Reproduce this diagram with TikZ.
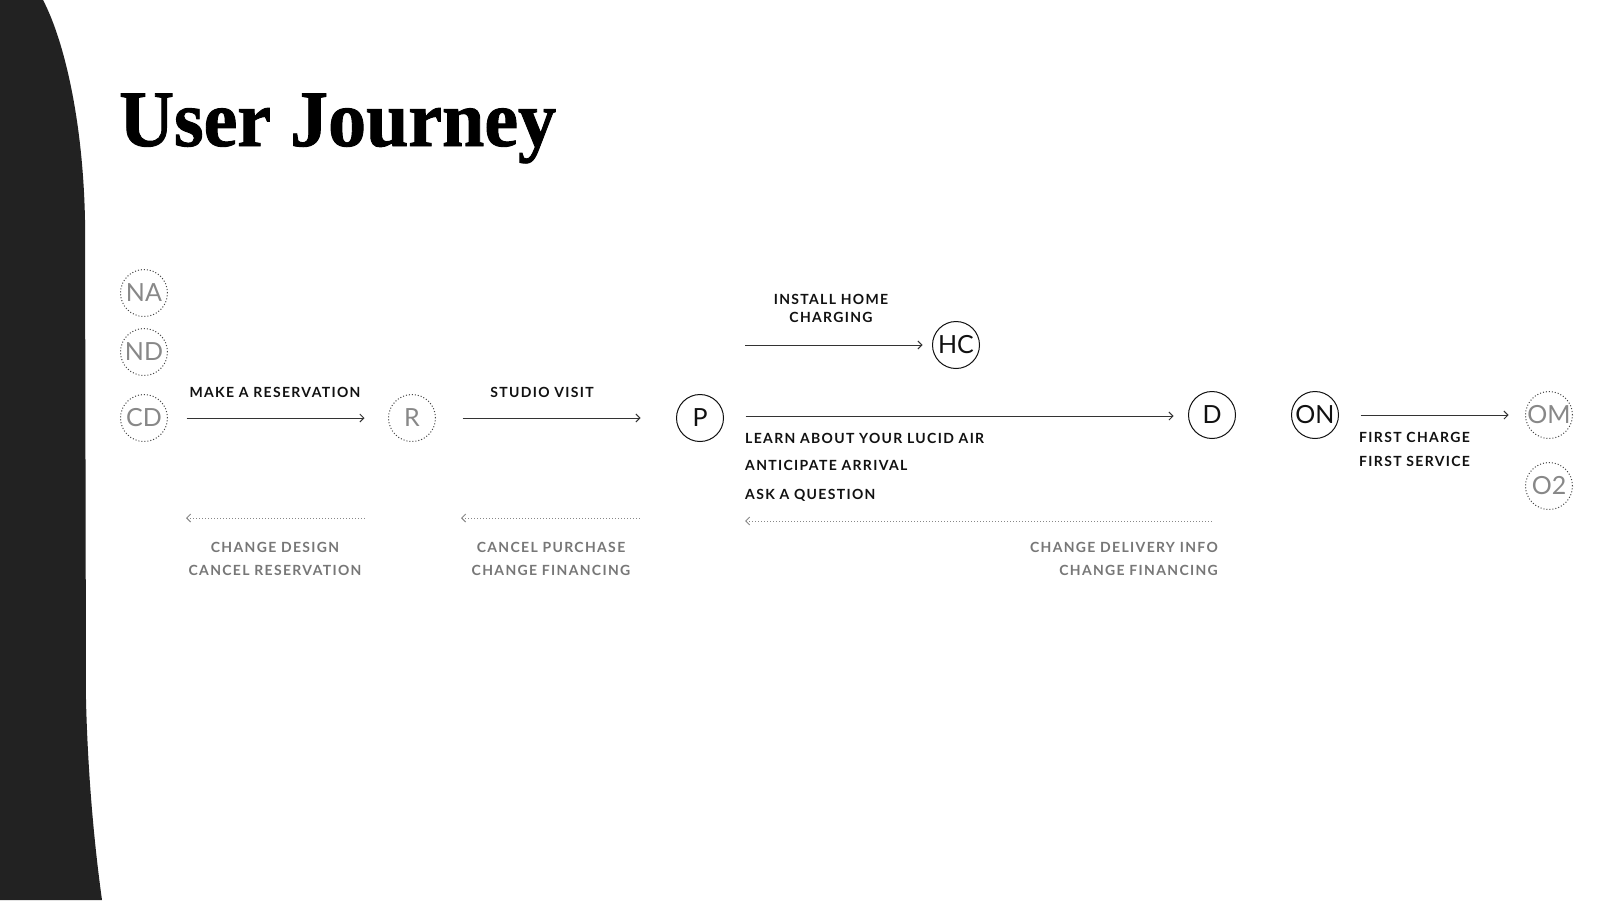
\documentclass[tikz,border=0pt]{standalone}
\usepackage{fontspec}
\setmainfont{Lato}
\newfontfamily\titlefont[BoldFeatures={FakeBold=1.2}]{Liberation Serif}
\newfontfamily\labfont[LetterSpace=9.5]{Lato}
\usetikzlibrary{arrows.meta}
\definecolor{darkbg}{HTML}{222222}
\definecolor{inkc}{HTML}{111111}
\definecolor{greytext}{HTML}{777777}
\definecolor{greycirc}{HTML}{888888}
\definecolor{dotline}{HTML}{444444}
\definecolor{arrline}{HTML}{333333}
\begin{document}
\begin{tikzpicture}[x=1pt,y=-1pt,
  solidc/.style={circle, draw=inkc, line width=1pt, minimum size=47pt, inner sep=0pt,
    font=\fontsize{25}{25}\selectfont, text=inkc},
  dotc/.style={circle, draw=dotline, line width=1pt, dash pattern=on 1pt off 2pt,
    minimum size=47pt, inner sep=0pt, font=\fontsize{25}{25}\selectfont, text=greycirc},
  arr/.style={draw=arrline, line width=0.9pt, -{Straight Barb[length=4pt,width=8pt]}},
  backarr/.style={draw=greycirc, line width=1pt, dash pattern=on 1pt off 2pt,
    {Straight Barb[length=4pt,width=8pt]}-},
  lab/.style={font=\labfont\bfseries\fontsize{14}{16}\selectfont, text=inkc, inner sep=0pt},
  glab/.style={font=\labfont\bfseries\fontsize{14}{16}\selectfont, text=greytext, inner sep=0pt}
]
\useasboundingbox (0,0) rectangle (1600,900);
\fill[white] (0,0) rectangle (1600,900);
\fill[darkbg] (0,0) -- (43,0) .. controls (64,40) and (83,120) .. (85,220)
  -- (86,700) .. controls (88,780) and (95,850) .. (102,900) -- (0,900) -- cycle;

\node[anchor=base west, inner sep=0pt, xscale=0.95, font=\titlefont\bfseries\fontsize{80}{80}\selectfont] (title) at (119,146) {User Journey};

% circles
\node[dotc] (NA) at (144,293) {NA};
\node[dotc] (ND) at (144,352) {ND};
\node[dotc] (CD) at (144,418) {CD};
\node[dotc] (R) at (412,418) {R};
\node[solidc] (P) at (700,418) {P};
\node[solidc] (HC) at (956,345) {HC};
\node[solidc] (D) at (1212,415) {D};
\node[solidc] (ON) at (1315,415) {ON};
\node[dotc] (OM) at (1549,415) {OM};
\node[dotc] (O2) at (1549,486) {O2};

% forward arrows
\draw[arr, shorten <=18.5pt, shorten >=23.5pt] (CD) -- (R);
\draw[arr, shorten <=26.5pt, shorten >=35.5pt] (R) -- (P);
\coordinate (pds) at ([xshift=21.5pt,yshift=2pt]P.east);
\draw[arr, shorten >=14.5pt] (pds) -- (pds -| D.west);
\draw[arr, shorten <=21.5pt, shorten >=16.5pt] (ON) -- (OM);
\coordinate (hcs) at (745,345);
\draw[arr, shorten >=9.5pt] (hcs) -- (HC);

% backward arrows
\coordinate (b1s) at (365,518); \coordinate (b1e) at (186,518);
\coordinate (b2s) at (641,518); \coordinate (b2e) at (461,518);
\coordinate (b3s) at (1212,521); \coordinate (b3e) at (745,521);
\draw[backarr] (b1e) -- (b1s);
\draw[backarr] (b2e) -- (b2s);
\draw[backarr] (b3e) -- (b3s);

% labels
\node[lab, anchor=base] (l1) at (275,397) {MAKE A RESERVATION};
\node[lab, anchor=base] (l2) at (542,397) {STUDIO VISIT};
\node[lab, anchor=base] (l3) at (831,304) {INSTALL HOME};
\node[lab, anchor=base] (l4) at (831,322) {CHARGING};
\node[lab, anchor=base west] (l5) at (745,443) {LEARN ABOUT YOUR LUCID AIR};
\node[lab, anchor=base west] (l6) at (745,470) {ANTICIPATE ARRIVAL};
\node[lab, anchor=base west] (l7) at (745,499) {ASK A QUESTION};
\node[lab, anchor=base west] (l8) at (1359,442) {FIRST CHARGE};
\node[lab, anchor=base west] (l9) at (1359,466) {FIRST SERVICE};

\node[glab, anchor=base] (g1) at (275,552) {CHANGE DESIGN};
\node[glab, anchor=base] (g2) at (275,575) {CANCEL RESERVATION};
\node[glab, anchor=base] (g3) at (551,552) {CANCEL PURCHASE};
\node[glab, anchor=base] (g4) at (551,575) {CHANGE FINANCING};
\node[glab, anchor=base east] (g5) at (1218,552) {CHANGE DELIVERY INFO};
\node[glab, anchor=base east] (g6) at (1218,575) {CHANGE FINANCING};
\end{tikzpicture}
\end{document}
